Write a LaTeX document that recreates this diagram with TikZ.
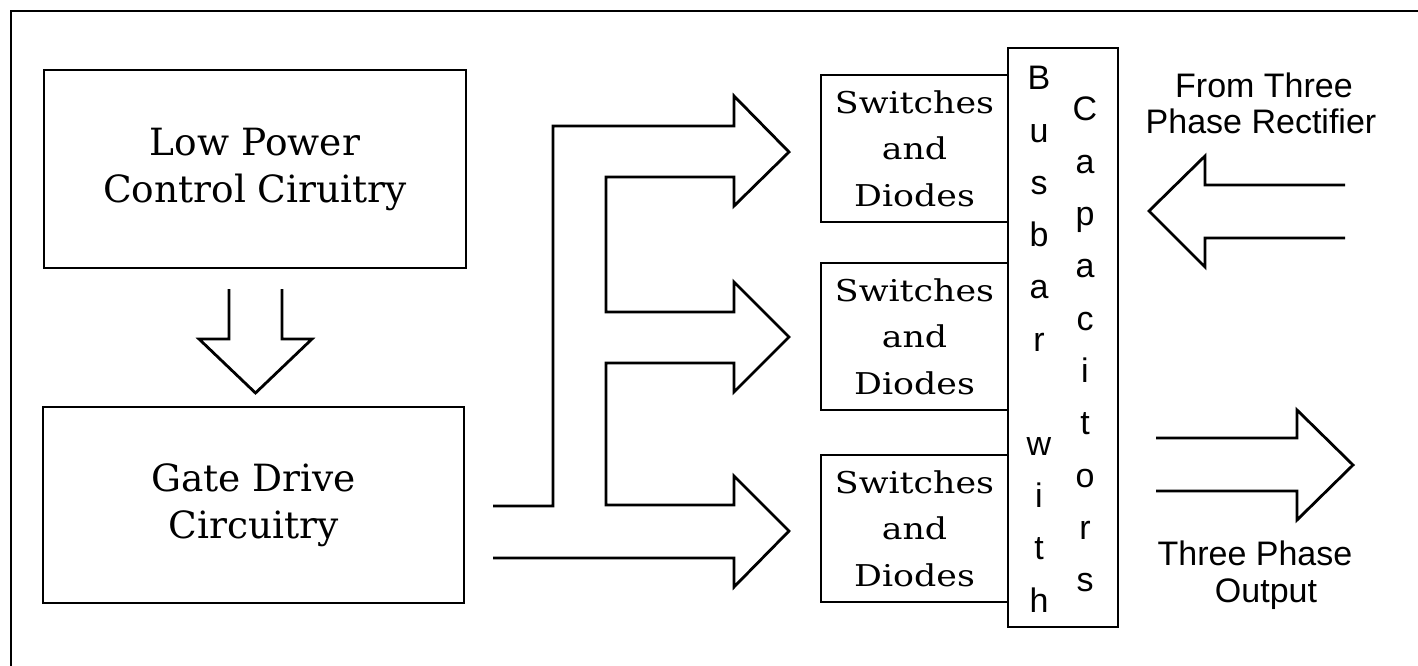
\documentclass[tikz,border=0pt]{standalone}
\usepackage{fontspec}
\setmainfont{DejaVu Serif}
\newfontfamily\blockfont{DejaVu Serif}
\newfontfamily\widefont[FakeStretch=1.16]{DejaVu Serif}
\newfontfamily\labelfont{Liberation Sans}
\begin{document}
\begin{tikzpicture}[x=1pt,y=-1pt,
  box/.style={draw, line width=2.8pt, inner sep=0pt, align=center},
  bigtext/.style={font=\blockfont\fontsize{37.5}{47}\selectfont},
  swtext/.style={font=\widefont\fontsize{30}{46.5}\selectfont},
  blockarrow/.style={draw, line width=2.8pt, line join=miter},
  letter/.style={font=\labelfont\fontsize{34}{40}\selectfont, anchor=base, inner sep=0pt},
  side/.style={font=\labelfont\fontsize{34}{36}\selectfont, anchor=base, inner sep=0pt}]
\useasboundingbox (0,0) rectangle (1418,666);

% frame (top and left edges)
\draw[line width=2.4pt] (11,666) -- (11,11) -- (1418,11);

% control blocks
\node[box, bigtext, minimum width=422pt, minimum height=198pt] (lp) at (255,169)
  {Low Power\\Control Ciruitry};
\node[box, bigtext, minimum width=421pt, minimum height=196pt] (gd) at (253.5,505)
  {Gate Drive\\Circuitry};

% power stage blocks
\node[box, swtext, minimum width=187pt, minimum height=147pt] (sw1) at (914.5,148.5)
  {Switches\\and\\Diodes};
\node[box, swtext, minimum width=187pt, minimum height=147pt] (sw2) at (914.5,336.5)
  {Switches\\and\\Diodes};
\node[box, swtext, minimum width=187pt, minimum height=147pt] (sw3) at (914.5,528.5)
  {Switches\\and\\Diodes};

% busbar column
\node[box, fill=white, minimum width=110pt, minimum height=579pt] (bus) at (1063,337.5) {};
\foreach \ch [count=\k from 0] in {B,u,s,b,a,r} {
  \node[letter] (bus-a\k) at (1039,{90+52.2*\k}) {\ch};
}
\foreach \ch [count=\k from 7] in {w,i,t,h} {
  \node[letter] (bus-b\k) at (1039,{90+52.2*\k}) {\ch};
}
\foreach \ch [count=\k from 0] in {C,a,p,a,c,i,t,o,r,s} {
  \node[letter] (cap-\k) at (1085,{121+52.3*\k}) {\ch};
}

% arrow from control to gate drive
\draw[blockarrow] (229,289) -- (229,339) -- (199,339) -- (255.5,393)
  -- (312,339) -- (282,339) -- (282,289);

% branching gate signal arrows
\draw[blockarrow] (493,506) -- (553,506) -- (553,126) -- (734,126) -- (734,96)
  -- (789,152) -- (734,206) -- (734,177) -- (606,177) -- (606,312) -- (734,312)
  -- (734,282) -- (789,337) -- (734,392) -- (734,363) -- (606,363) -- (606,505)
  -- (734,505) -- (734,476) -- (789,531) -- (734,587) -- (734,558) -- (493,558);

% rectifier input arrow
\draw[blockarrow] (1345,185) -- (1205,185) -- (1205,156) -- (1149,211)
  -- (1205,267) -- (1205,238) -- (1345,238);
\node[side] (in1) at (1264,98) {From Three};
\node[side] (in2) at (1261,134) {Phase Rectifier};

% output arrow
\draw[blockarrow] (1156,438) -- (1297,438) -- (1297,410) -- (1353,465)
  -- (1297,520) -- (1297,491) -- (1156,491);
\node[side] (out1) at (1255,565) {Three Phase};
\node[side] (out2) at (1266,602) {Output};
\end{tikzpicture}
\end{document}
